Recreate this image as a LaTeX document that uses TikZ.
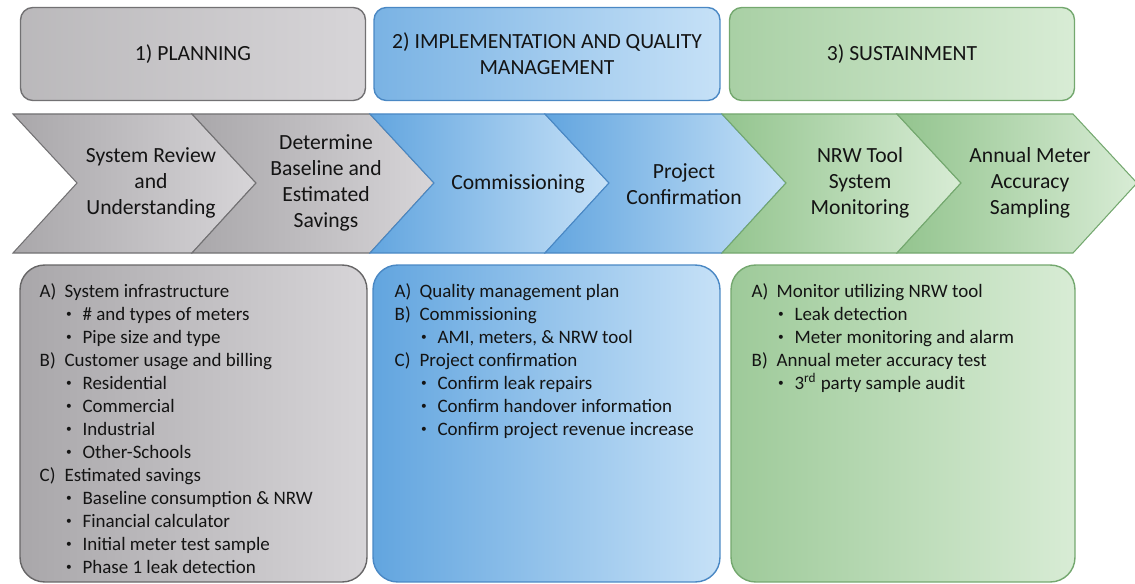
\documentclass[tikz,border=0pt]{standalone}
\usepackage{fontspec}
\setmainfont{Carlito}
\usetikzlibrary{calc, positioning}
\definecolor{textBlack}{gray}{0.08}
\definecolor{grayL}{HTML}{A9A7AA}
\definecolor{grayR}{HTML}{D7D5D8}
\definecolor{grayD}{HTML}{727173}
\definecolor{blueL}{HTML}{62A5DF}
\definecolor{blueR}{HTML}{C6E1F7}
\definecolor{blueD}{HTML}{4A88C4}
\definecolor{greenL}{HTML}{93C48E}
\definecolor{greenR}{HTML}{D8ECD5}
\definecolor{greenD}{HTML}{74A86F}
\newcommand{\stepitem}[2]{\makebox[14.2pt][l]{#1}#2}
\newcommand{\stepbullet}[1]{\hspace*{15pt}\makebox[9.4pt][l]{\raisebox{0.35ex}{\scalebox{0.6}{\textbullet}}}#1}

\begin{document}
\begin{tikzpicture}[x=0.02cm, y=-0.02cm,
    phase/.style={draw, rounded corners=7pt, line width=0.8pt, text=textBlack,
        minimum height=1.86cm, align=center, font=\fontsize{12.3}{14.7}\selectfont},
    chev/.style={line width=0.6pt},
    steptext/.style={align=center, text=textBlack, font=\fontsize{12.3}{14.7}\selectfont},
    notebox/.style={draw, rounded corners=14pt, line width=0.8pt,
        minimum width=6.94cm, minimum height=6.34cm},
    notelist/.style={anchor=north west, inner sep=0pt, align=left, text=textBlack,
        font=\fontsize{10.8}{13.1}\selectfont}]
    \clip (0,0) rectangle (1135,584);

    % phases
    \node[phase, minimum width=6.9cm, left color=grayL!80, right color=grayR, draw=grayD]
        (plan) at (193,54) {1) PLANNING};
    \node[phase, minimum width=6.92cm, left color=blueL!85, right color=blueR, draw=blueD]
        (impl) at (547,54) {2) IMPLEMENTATION AND QUALITY\\MANAGEMENT};
    \node[phase, minimum width=6.9cm, left color=greenL!80, right color=greenR, draw=greenD]
        (sust) at (902,54) {3) SUSTAINMENT};

    % chevrons
    \foreach \xa/\xb/\cl/\cr/\cd in {13/192/grayL/grayR/grayD, 192/370/grayL/grayR/grayD,
        370/545/blueL/blueR/blueD, 545/722/blueL/blueR/blueD,
        722/897/greenL/greenR/greenD, 897/1073/greenL/greenR/greenD} {
        \draw[chev, left color=\cl, right color=\cr, draw=\cd]
            (\xa,114) -- (\xb,114) -- (\xb+64,183) -- (\xb,253) -- (\xa,253) -- (\xa+64,183) -- cycle;
    }
    \node[steptext] (sysrev) at (151,183) {System Review\\and\\Understanding};
    \node[steptext] (baseline) at (326,183) {Determine\\Baseline and\\Estimated\\Savings};
    \node[steptext] (commis) at (518,184) {Commissioning};
    \node[steptext] (projconf) at (684,184) {Project\\Confirmation};
    \node[steptext] (nrwmon) at (860,183) {NRW Tool\\System\\Monitoring};
    \node[steptext] (annual) at (1030,183) {Annual Meter\\Accuracy\\Sampling};

    % details
    \node[notebox, left color=grayL, right color=grayR, draw=grayD!90!black]
        (planbox) at (193.5,423.5) {};
    \node[notebox, left color=blueL, right color=blueR, draw=blueD] (implbox) at (546.5,423.5) {};
    \node[notebox, minimum width=6.88cm, left color=greenL!90, right color=greenR, draw=greenD]
        (sustbox) at (903,423.5) {};

    \node[notelist] (planlist) at ($(planbox.north west)+(20,19)$) {%
        \stepitem{A)}{System infrastructure}\\
        \stepbullet{\# and types of meters}\\
        \stepbullet{Pipe size and type}\\
        \stepitem{B)}{Customer usage and billing}\\
        \stepbullet{Residential}\\
        \stepbullet{Commercial}\\
        \stepbullet{Industrial}\\
        \stepbullet{Other-Schools}\\
        \stepitem{C)}{Estimated savings}\\
        \stepbullet{Baseline consumption \& NRW}\\
        \stepbullet{Financial calculator}\\
        \stepbullet{Initial meter test sample}\\
        \stepbullet{Phase 1 leak detection}};
    \node[notelist] (impllist) at ($(implbox.north west)+(22,19)$) {%
        \stepitem{A)}{Quality management plan}\\
        \stepitem{B)}{Commissioning}\\
        \stepbullet{AMI, meters, \& NRW tool}\\
        \stepitem{C)}{Project confirmation}\\
        \stepbullet{Confirm leak repairs}\\
        \stepbullet{Confirm handover information}\\
        \stepbullet{Confirm project revenue increase}};
    \node[notelist] (sustlist) at ($(sustbox.north west)+(21,19)$) {%
        \stepitem{A)}{Monitor utilizing NRW tool}\\
        \stepbullet{Leak detection}\\
        \stepbullet{Meter monitoring and alarm}\\
        \stepitem{B)}{Annual meter accuracy test}\\
        \stepbullet{3\textsuperscript{rd} party sample audit}};
\end{tikzpicture}
\end{document}
